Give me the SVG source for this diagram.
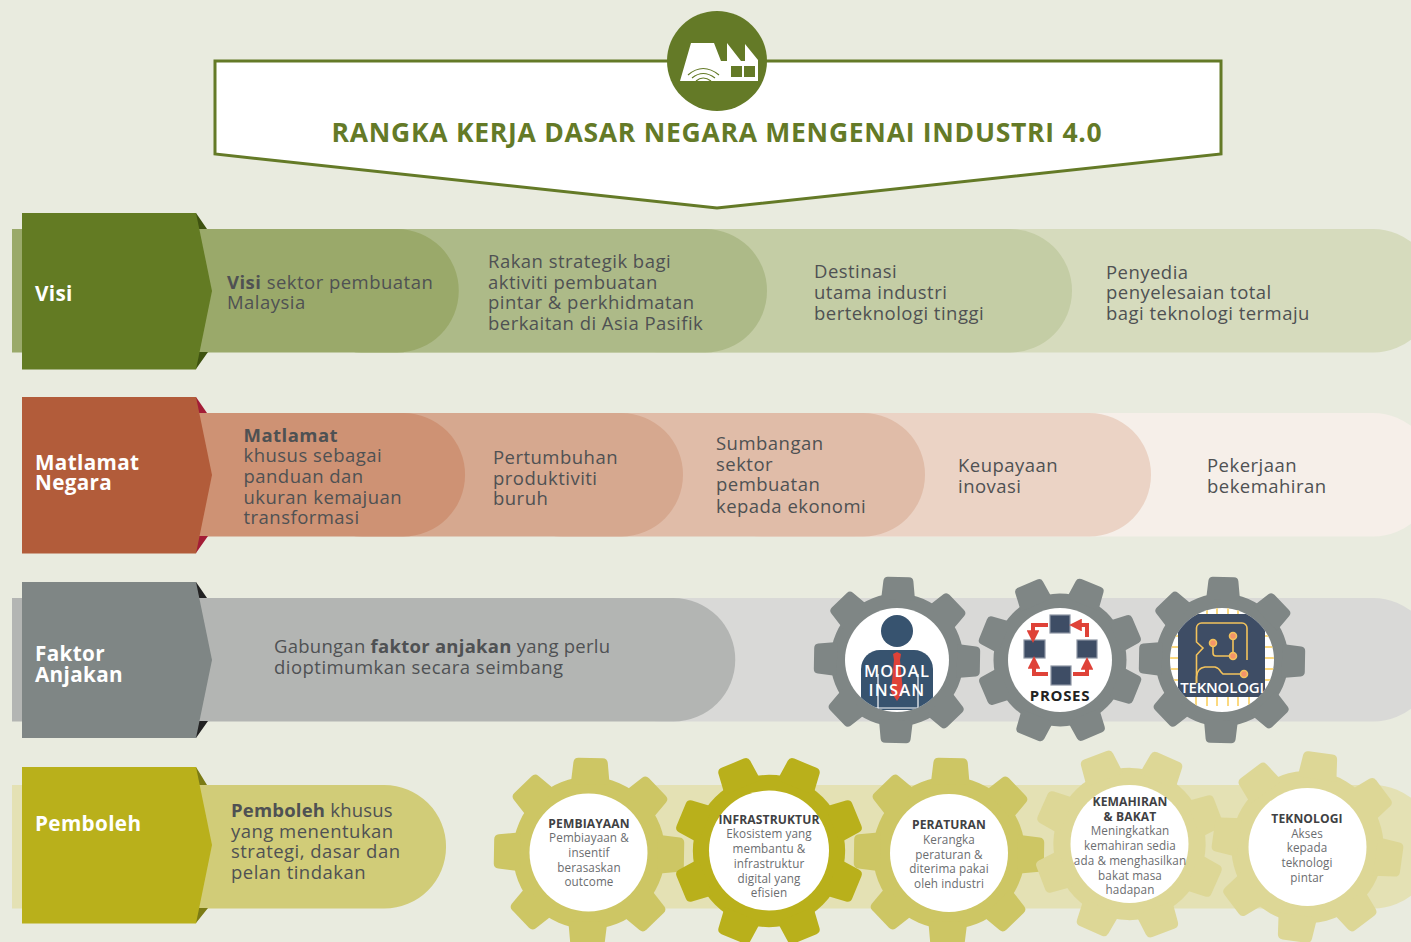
<svg xmlns="http://www.w3.org/2000/svg" width="1411" height="942" viewBox="0 0 1411 942">
<style>
text{font-family:"Open Sans","Noto Sans","DejaVu Sans",sans-serif}
.t{font-size:18.5px;fill:#4f5153;letter-spacing:.47px}
.h{font-size:20.7px;font-weight:700;fill:#fff;letter-spacing:.35px}
.g{font-size:11.7px;fill:#6b6d6f;text-anchor:middle;letter-spacing:.1px}
.gb{font-size:12.1px;font-weight:700;fill:#3f4143;text-anchor:middle;letter-spacing:.1px}
.b{font-weight:700}
.w{fill:#fff}
.red{fill:none;stroke:#df4238;stroke-width:4}
.sq{fill:#3e4d65;stroke:#8d95a3;stroke-width:1.2}
.cir{fill:none;stroke:#f2c25c;stroke-width:1.6}
.dot{fill:#f4946a;stroke:#f2c25c;stroke-width:1.6}
.tick{stroke:#fbd980;stroke-width:2}
.wifi{fill:none;stroke:#647a27;stroke-width:1.2}
</style>
<defs>
<path id="tooth" d="M-17,-60L-15,-79Q-14.500,-83 -10.500,-83H10.500Q14.500,-83 15,-79L17,-60Z"/>
<g id="gear">
<circle r="66.500"/>
<use href="#tooth"/>
<use href="#tooth" transform="rotate(45)"/>
<use href="#tooth" transform="rotate(90)"/>
<use href="#tooth" transform="rotate(135)"/>
<use href="#tooth" transform="rotate(180)"/>
<use href="#tooth" transform="rotate(225)"/>
<use href="#tooth" transform="rotate(270)"/>
<use href="#tooth" transform="rotate(315)"/>
</g>
<clipPath id="c1"><circle cx="897" cy="660" r="52"/></clipPath>
<clipPath id="c3"><circle cx="1222" cy="660" r="52"/></clipPath>
<marker id="ah" viewBox="0 0 10 10" refX="3" refY="5" markerWidth="3.200" markerHeight="3.200" orient="auto"><path d="M0,0L10,5L0,10Z" fill="#df4238"/></marker>
</defs>
<rect width="1411" height="942" fill="#e9ebdf"/>

<g id="title">
<polygon points="215,61 1221,61 1221,154 717,208 215,154" fill="#fff" stroke="#647a27" stroke-width="3"/>
<circle cx="717" cy="61" r="50" fill="#647a27"/>
<polygon class="w" points="680,81 691,43 714,43 721,61 727,61 727,43 741,61 745,61 745,44 758,60 758,81"/>
<rect x="731" y="66" width="11" height="11" fill="#647a27"/>
<rect x="744" y="66" width="11" height="11" fill="#647a27"/>
<path class="wifi" d="M688,75Q703,62 719,75M692,78Q703,69 715,78M696,81Q703,75 711,81"/>
<text x="717" y="142" text-anchor="middle" font-size="26.500" font-weight="700" fill="#647a27" letter-spacing=".73">RANGKA KERJA DASAR NEGARA MENGENAI INDUSTRI 4.0</text>
</g>

<g id="visi">
<rect x="600" y="229" width="835" height="123.500" rx="61.700" fill="#d6dbbd"/>
<rect x="300" y="229" width="772" height="123.500" rx="61.700" fill="#c4cda5"/>
<rect x="300" y="229" width="467" height="123.500" rx="61.700" fill="#adba88"/>
<path d="M12,229H397a61.700,61.700 0 0 1 0,123.500H12Z" fill="#9aa96a"/>
<path d="M196,213L207,229H196ZM196,369L208,352H196Z" fill="#3e5210"/>
<polygon points="22,213 196,213 212,291 196,369.500 22,369.500" fill="#637b23"/>
<text class="h" x="35" y="301">Visi</text>
<text class="t" x="227" y="289"><tspan class="b">Visi</tspan> sektor pembuatan</text>
<text class="t" x="227" y="309">Malaysia</text>
<text class="t" x="488" y="268">Rakan strategik bagi</text>
<text class="t" x="488" y="289">aktiviti pembuatan</text>
<text class="t" x="488" y="309">pintar &amp; perkhidmatan</text>
<text class="t" x="488" y="330">berkaitan di Asia Pasifik</text>
<text class="t" x="814" y="278">Destinasi</text>
<text class="t" x="814" y="299">utama industri</text>
<text class="t" x="814" y="320">berteknologi tinggi</text>
<text class="t" x="1106" y="279">Penyedia</text>
<text class="t" x="1106" y="299">penyelesaian total</text>
<text class="t" x="1106" y="320">bagi teknologi termaju</text>
</g>

<g id="matlamat">
<rect x="800" y="413" width="635" height="123.500" rx="61.700" fill="#f6efe9"/>
<rect x="700" y="413" width="451" height="123.500" rx="61.700" fill="#ebd3c5"/>
<rect x="500" y="413" width="425" height="123.500" rx="61.700" fill="#e0bca8"/>
<rect x="300" y="413" width="383" height="123.500" rx="61.700" fill="#d6a88f"/>
<path d="M196,413H403.300a61.700,61.700 0 0 1 0,123.500H196Z" fill="#ce9274"/>
<path d="M196,397L207,413H196ZM196,553L208,536H196Z" fill="#a31d36"/>
<polygon points="22,397 196,397 212,475 196,553.500 22,553.500" fill="#b25c3a"/>
<text class="h" x="35" y="470">Matlamat</text>
<text class="h" x="35" y="490">Negara</text>
<text class="t" x="243.500" y="442" letter-spacing=".25"><tspan class="b">Matlamat</tspan></text>
<text class="t" x="243.500" y="462">khusus sebagai</text>
<text class="t" x="243.500" y="483">panduan dan</text>
<text class="t" x="243.500" y="504">ukuran kemajuan</text>
<text class="t" x="243.500" y="524">transformasi</text>
<text class="t" x="493" y="464">Pertumbuhan</text>
<text class="t" x="493" y="485">produktiviti</text>
<text class="t" x="493" y="505">buruh</text>
<text class="t" x="716" y="450">Sumbangan</text>
<text class="t" x="716" y="471">sektor</text>
<text class="t" x="716" y="491">pembuatan</text>
<text class="t" x="716" y="513">kepada ekonomi</text>
<text class="t" x="958" y="472">Keupayaan</text>
<text class="t" x="958" y="493">inovasi</text>
<text class="t" x="1207" y="472">Pekerjaan</text>
<text class="t" x="1207" y="493">bekemahiran</text>
</g>

<g id="faktor">
<rect x="600" y="598" width="835" height="123.500" rx="61.700" fill="#d9d9d7"/>
<path d="M12,598H673.500a61.700,61.700 0 0 1 0,123.500H12Z" fill="#b3b5b3"/>
<path d="M196,582L207,598H196ZM196,738L208,721H196Z" fill="#222"/>
<polygon points="22,582 196,582 212,660 196,738 22,738" fill="#7f8685"/>
<text class="h" x="35" y="661">Faktor</text>
<text class="h" x="35" y="682">Anjakan</text>
<text class="t" x="274" y="653" style="letter-spacing:.26px">Gabungan <tspan class="b">faktor anjakan</tspan> yang perlu</text>
<text class="t" x="274" y="674">dioptimumkan secara seimbang</text>
</g>

<g id="modal-insan">
<use href="#gear" transform="translate(897,660) rotate(1)" fill="#7f8685"/>
<circle cx="897" cy="660" r="52" fill="#fff"/>
<g clip-path="url(#c1)">
<circle cx="897" cy="631" r="16" fill="#37536f"/>
<path d="M861,710V669a19,19 0 0 1 19,-19h34a19,19 0 0 1 19,19v41Z" fill="#37536f"/>
<path d="M893,654L897,652L901,654L900,660L903,692L897,701L891,692L894,660Z" fill="#df4238"/>
<path d="M878,674V710M918,674V710M873,708H921" stroke="#fff" stroke-width="1.200" fill="none"/>
</g>
<text x="897" y="677" text-anchor="middle" font-size="16.500" font-weight="600" fill="#fff" letter-spacing="1.200">MODAL</text>
<text x="897" y="696" text-anchor="middle" font-size="16.500" font-weight="600" fill="#fff" letter-spacing="1.200">INSAN</text>
</g>

<g id="proses">
<use href="#gear" transform="translate(1060,660) rotate(22)" fill="#7f8685"/>
<circle cx="1060" cy="660" r="52" fill="#fff"/>
<rect class="sq" x="1050" y="615" width="20" height="18"/>
<rect class="sq" x="1024" y="640" width="21" height="18"/>
<rect class="sq" x="1077" y="640" width="20" height="18"/>
<rect class="sq" x="1051" y="666" width="20" height="19"/>
<path class="red" marker-end="url(#ah)" d="M1048,625H1033V634"/>
<path class="red" marker-end="url(#ah)" d="M1087,637V625H1078"/>
<path class="red" marker-end="url(#ah)" d="M1048,674H1034V665"/>
<path class="red" marker-end="url(#ah)" d="M1073,674H1087V666"/>
<text x="1060" y="701" text-anchor="middle" font-size="15" font-weight="700" fill="#222" letter-spacing=".7">PROSES</text>
</g>

<g id="teknologi-anjakan">
<use href="#gear" transform="translate(1222,660) rotate(1)" fill="#7f8685"/>
<circle cx="1222" cy="660" r="52" fill="#fff"/>
<g clip-path="url(#c3)">
<path class="tick" d="M1186,608v8M1196,608v8M1207,608v8M1217,608v8M1228,608v8M1238,608v8M1249,608v8M1259,608v8M1186,696v10M1196,696v10M1207,696v10M1217,696v10M1228,696v10M1238,696v10M1249,696v10M1259,696v10M1170,625h10M1170,636h10M1170,647h10M1170,658h10M1170,669h10M1170,680h10M1264,625h10M1264,636h10M1264,647h10M1264,658h10M1264,669h10M1264,680h10"/>
<rect x="1178" y="614" width="87" height="83" rx="6" fill="#3e4d65"/>
</g>
<path class="cir" d="M1196.500,683V655L1203,648L1196.500,642V628a5,5 0 0 1 5,-5H1242a5,5 0 0 1 5,5V660"/>
<path class="cir" d="M1196.500,683V677Q1197,668 1205,667H1215Q1219,668 1221,672L1223,674H1243"/>
<path class="cir" d="M1213,643V653Q1213,656 1216,656H1233V636"/>
<circle class="dot" cx="1213" cy="643" r="3.500"/>
<circle class="dot" cx="1233" cy="636" r="3.500"/>
<circle class="dot" cx="1233" cy="656" r="3.500"/>
<circle class="dot" cx="1244" cy="674" r="3.500"/>
<text x="1222" y="693" text-anchor="middle" font-size="15" font-weight="600" fill="#fff" letter-spacing="-.2">TEKNOLOGI</text>
</g>

<g id="pemboleh">
<rect x="600" y="785" width="835" height="123.500" rx="61.700" fill="#e4e1b4"/>
<path d="M12,785H200V908.500H12Z" fill="#e4e1b4"/>
<path d="M196,785H384.300a61.700,61.700 0 0 1 0,123.500H196Z" fill="#d1cc78"/>
<path d="M196,767L207,785H196ZM196,923L208,908H196Z" fill="#7b7b14"/>
<polygon points="22,767 196,767 212,845 196,923.500 22,923.500" fill="#b9b01b"/>
<text class="h" x="35" y="831">Pemboleh</text>
<text class="t" x="231" y="817" style="letter-spacing:.2px"><tspan class="b">Pemboleh</tspan> khusus</text>
<text class="t" x="231" y="838">yang menentukan</text>
<text class="t" x="231" y="858">strategi, dasar dan</text>
<text class="t" x="231" y="879">pelan tindakan</text>
</g>

<g id="pembiayaan">
<use href="#gear" transform="translate(589,853) rotate(1) scale(1.145)" fill="#cdc664"/>
<circle cx="588.500" cy="852.500" r="59" fill="#fff"/>
<text class="gb" x="589" y="828">PEMBIAYAAN</text>
<text class="g" x="589" y="842">Pembiayaan &amp;</text>
<text class="g" x="589" y="857">insentif</text>
<text class="g" x="589" y="872">berasaskan</text>
<text class="g" x="589" y="886">outcome</text>
</g>
<g id="infrastruktur">
<use href="#gear" transform="translate(769,851) rotate(22.500) scale(1.145)" fill="#b9b01b"/>
<circle cx="769" cy="850.500" r="60" fill="#fff"/>
<text class="gb" x="769" y="824">INFRASTRUKTUR</text>
<text class="g" x="769" y="838">Ekosistem yang</text>
<text class="g" x="769" y="853">membantu &amp;</text>
<text class="g" x="769" y="868">infrastruktur</text>
<text class="g" x="769" y="883">digital yang</text>
<text class="g" x="769" y="897">efisien</text>
</g>
<g id="peraturan">
<use href="#gear" transform="translate(949,853) rotate(1) scale(1.145)" fill="#cdc664"/>
<circle cx="949" cy="853" r="59" fill="#fff"/>
<text class="gb" x="949" y="829">PERATURAN</text>
<text class="g" x="949" y="844">Kerangka</text>
<text class="g" x="949" y="859">peraturan &amp;</text>
<text class="g" x="949" y="873">diterima pakai</text>
<text class="g" x="949" y="888">oleh industri</text>
</g>
<g id="kemahiran">
<use href="#gear" transform="translate(1129.500,844) rotate(24) scale(1.145)" fill="#ddd796"/>
<circle cx="1129.500" cy="844" r="59" fill="#fff"/>
<text class="gb" x="1130" y="806">KEMAHIRAN</text>
<text class="gb" x="1130" y="821">&amp; BAKAT</text>
<text class="g" x="1130" y="835">Meningkatkan</text>
<text class="g" x="1130" y="850">kemahiran sedia</text>
<text class="g" x="1130" y="865">ada &amp; menghasilkan</text>
<text class="g" x="1130" y="880">bakat masa</text>
<text class="g" x="1130" y="894">hadapan</text>
</g>
<g id="teknologi-pemboleh">
<use href="#gear" transform="translate(1307.500,847) rotate(8) scale(1.145)" fill="#ddd796"/>
<circle cx="1307.500" cy="847" r="59" fill="#fff"/>
<text class="gb" x="1307" y="823">TEKNOLOGI</text>
<text class="g" x="1307" y="838">Akses</text>
<text class="g" x="1307" y="852">kepada</text>
<text class="g" x="1307" y="867">teknologi</text>
<text class="g" x="1307" y="882">pintar</text>
</g>
</svg>
